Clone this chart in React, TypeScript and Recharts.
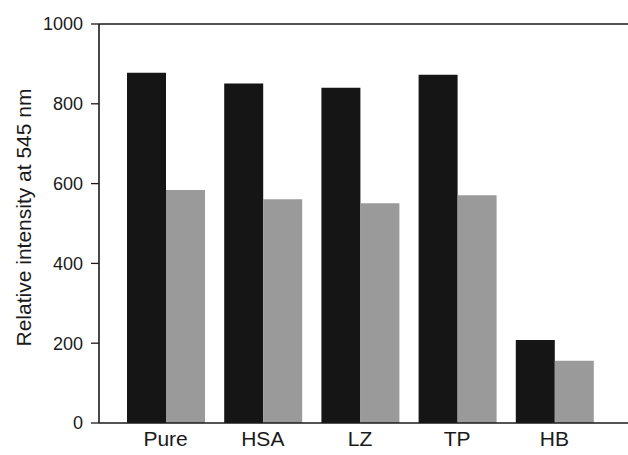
import { BarChart, Bar, XAxis, YAxis, ReferenceLine, Label } from "recharts";

const samples = ["Pure", "HSA", "LZ", "TP", "HB"];
const blackSeries = [878, 851, 840, 873, 208];
const graySeries = [584, 561, 551, 571, 156];
const majorTicks = [0, 200, 400, 600, 800, 1000];
const minorTicks = [100, 300, 500, 700, 900];

const data = samples.map((name, i) => ({
  name,
  black: blackSeries[i],
  gray: graySeries[i],
}));

const font = '"Liberation Sans", Arial, sans-serif';
const axisColor = "#1a1a1a";

export default function App() {
  return (
    <div style={{ position: "absolute", left: 0, top: 0, background: "#fff" }}>
      <BarChart
        width={628}
        height={455}
        data={data}
        margin={{ top: 24, right: 0, left: 0, bottom: 2 }}
        barGap={0}
        barSize={39}
      >
        <XAxis
          dataKey="name"
          height={30}
          padding={{ left: 18, right: 25 }}
          tickLine={false}
          tickSize={0}
          tickMargin={8}
          axisLine={{ stroke: axisColor, strokeWidth: 1.6 }}
          tick={{ fill: "#1a1a1a", fontSize: 21, fontFamily: font }}
        />
        <YAxis
          domain={[0, 1000]}
          ticks={majorTicks}
          width={99}
          tickSize={8}
          tickMargin={8}
          interval={0}
          axisLine={{ stroke: axisColor, strokeWidth: 1.6 }}
          tickLine={{ stroke: axisColor, strokeWidth: 1.3 }}
          tick={{ fill: "#1a1a1a", fontSize: 18, fontFamily: font }}
        >
          <Label
            content={({ viewBox }: any) => {
              const cx = viewBox.x + 23;
              const cy = viewBox.y + viewBox.height / 2 - 6;
              return (
                <text
                  x={cx}
                  y={cy}
                  transform={`rotate(-90, ${cx}, ${cy})`}
                  textAnchor="middle"
                  dominantBaseline="central"
                  fill="#1a1a1a"
                  fontSize={21}
                  fontFamily={font}
                >
                  Relative intensity at 545 nm
                </text>
              );
            }}
          />
        </YAxis>
        <YAxis
          yAxisId="minor"
          domain={[0, 1000]}
          ticks={minorTicks}
          interval={0}
          mirror
          tickSize={3}
          axisLine={false}
          tick={false}
          tickLine={{ stroke: axisColor, strokeWidth: 1.2 }}
        />
        <ReferenceLine y={1000} stroke={axisColor} strokeWidth={1.6} ifOverflow="extendDomain" />
        <Bar dataKey="black" fill="#151515" isAnimationActive={false} />
        <Bar dataKey="gray" fill="#9a9a9a" isAnimationActive={false} />
      </BarChart>
    </div>
  );
}
